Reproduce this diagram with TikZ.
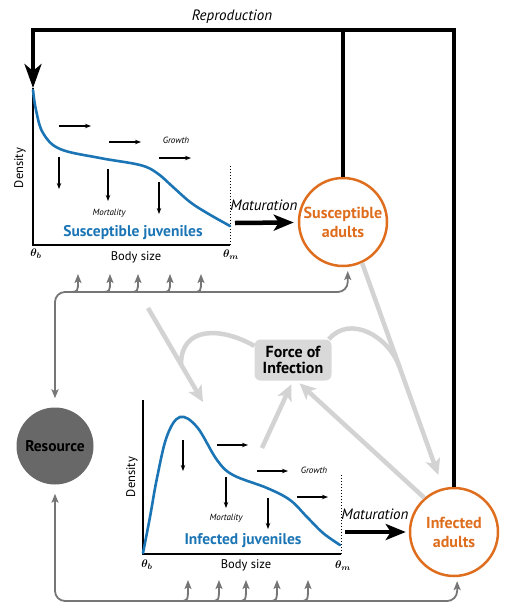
\documentclass[tikz,border=0pt]{standalone}
\usepackage{amsmath}
\usepackage{fontspec}
\setmainfont{PT Sans}
\usetikzlibrary{arrows.meta,calc}

\definecolor{juvblue}{RGB}{27,117,181}
\definecolor{adultorange}{RGB}{222,110,30}
\definecolor{resgray}{RGB}{118,118,118}
\definecolor{resfill}{RGB}{104,104,104}
\definecolor{infgray}{RGB}{211,211,211}
\definecolor{foigray}{RGB}{217,217,217}

\tikzset{
  adult/.style={circle, draw=adultorange, line width=2.5pt, minimum size=88pt,
    inner sep=0pt, align=center, text=adultorange,
    font=\fontsize{16}{19}\selectfont\bfseries},
  resource/.style={circle, fill=resfill, minimum size=77pt, inner sep=0pt,
    font=\fontsize{15.5}{17}\selectfont\bfseries},
  foi/.style={rectangle, rounded corners=6pt, fill=foigray, minimum width=77pt,
    minimum height=41pt, align=center, font=\fontsize{16}{15.5}\selectfont\bfseries},
  axis/.style={line width=1.2pt},
  maturity/.style={line width=0.6pt, dash pattern=on 1.5pt off 1.5pt},
  density/.style={juvblue, line width=2.6pt, line cap=round},
  flow/.style={line width=1.1pt, -{Stealth[length=6pt,width=4.5pt]}},
  repro/.style={line width=4pt},
  mature/.style={line width=4.5pt, -{Stealth[length=20pt,width=16pt,inset=5pt]}},
  resflow/.style={resgray, line width=1.8pt, -{Stealth[length=9pt,width=7pt,inset=2pt]}},
  infect/.style={infgray, line width=4.5pt, -{Stealth[length=16pt,width=15pt,inset=4pt]}},
  infectline/.style={infgray, line width=4.5pt},
  tinylabel/.style={font=\fontsize{9}{10}\selectfont\itshape},
  axlabel/.style={font=\fontsize{12.5}{14}\selectfont},
  flowlabel/.style={font=\fontsize{15}{17}\selectfont\itshape},
  juvlabel/.style={juvblue, font=\fontsize{15.5}{17}\selectfont\bfseries},
  thetalabel/.style={font=\fontsize{11}{12}\selectfont},
}

\begin{document}
\begin{tikzpicture}[x=1pt, y=-1pt]
\useasboundingbox (0,0) rectangle (523,614);

% Compartments
\node[adult] (sadult) at (343,222) {Susceptible\\adults};
\node[adult] (iadult) at (454,532) {Infected\\adults};
\node[resource] (resource) at (55,446) {Resource};
\node[foi] (foi) at (293,360) {Force of\\Infection};

% Infection pathways
\coordinate (sjuv) at (148,308);
\coordinate (ijuv) at (203,402);
\coordinate (ijtop) at (262,448);
\draw[infect] (sjuv) -- (ijuv);
\draw[infectline] (foi.160) to[out=150, in=90, looseness=1.3] ($(sjuv)!0.6!(ijuv)$);
\draw[infect, shorten >=14pt] (sadult.-65) -- (iadult.104);
\draw[infectline] (foi.30) to[out=50, in=110, looseness=1.1] ($(sadult.-65)!0.46!(iadult.104)$);
\draw[infect, shorten >=4pt] (ijtop) -- (foi.south);
\draw[infect, shorten >=4pt] (iadult.131) -- (foi.-80);

% Reproduction
\coordinate (rtop) at (33,30);
\coordinate (sy) at (33,88);
\draw[repro, -{Stealth[length=24pt,width=17pt,inset=7pt]}] (iadult.north) |- (rtop) -- (sy);
\draw[repro] (sadult.north) -- (sadult.north |- rtop);
\node[flowlabel] (replabel) at (232,17) {Reproduction};

% Resource uptake
\coordinate (sfeed) at (0,292);
\coordinate (ifeed) at (0,601);
\draw[resflow, {Stealth[length=9pt,width=7pt,inset=2pt]}-{Stealth[length=9pt,width=7pt,inset=2pt]},
  rounded corners=10pt, shorten <=9pt, shorten >=4pt]
  (resource.north) -- (resource.north |- sfeed) -- (sfeed -| sadult.-84) -- (sadult.-84);
\draw[resflow, {Stealth[length=9pt,width=7pt,inset=2pt]}-{Stealth[length=9pt,width=7pt,inset=2pt]},
  rounded corners=10pt, shorten <=9pt, shorten >=4pt]
  (resource.south) -- (resource.south |- ifeed) -- (ifeed -| iadult.-86) -- (iadult.-86);
\foreach \bx in {78,110,138,170,201} {
  \coordinate (btip) at (\bx,274);
  \draw[resflow] ($(btip |- sfeed)+(-9,0)$) .. controls (btip |- sfeed) .. (btip);
}
\foreach \bx in {188,219,246,277,308} {
  \coordinate (btip) at (\bx,580);
  \draw[resflow] ($(btip |- ifeed)+(-9,0)$) .. controls (btip |- ifeed) .. (btip);
}

% Susceptible juveniles
\coordinate (so) at (33,245);
\coordinate (sm) at (230,245);
\draw[axis] (sy) -- (so) -- (sm);
\draw[maturity] (sm) -- ++(0,-81);
\draw[density] plot[smooth, tension=0.6] coordinates {(33,90) (36,110) (43,133) (60,149)
  (100,158) (140,165) (157,173) (173,187) (190,202) (207,213) (230,226)};
\foreach \gx/\gy in {59/126,109/142,159/158} \draw[flow] (\gx,\gy) -- ++(32,0);
\foreach \mx/\my in {59/157,108/169,159/182} \draw[flow] (\mx,\my) -- ++(0,32);
\node[tinylabel] at (176,140) {Growth};
\node[tinylabel] at (109,213) {Mortality};
\node[juvlabel] at (133,233) {Susceptible juveniles};
\node[axlabel, rotate=90] at (20,168) {Density};
\node[axlabel] at (136,257) {Body size};
\node[thetalabel] at (36,254) {$\boldsymbol{\theta_b}$};
\node[thetalabel] at (231,255) {$\boldsymbol{\theta_m}$};
\node[flowlabel] at (264,205) {Maturation};
\coordinate (smat) at (235,223);
\draw[mature, shorten >=4pt] (smat) -- (sadult);

% Infected juveniles
\coordinate (io) at (143,554);
\coordinate (iy) at (143,400);
\coordinate (im) at (341,554);
\draw[axis] (iy) -- (io) -- (im);
\draw[maturity] (im) -- ++(0,-81);
\draw[density] plot[smooth, tension=0.6] coordinates {(143,553) (150,517) (157,478) (167,436)
  (180,417) (197,427) (217,460) (233,475) (267,488) (290,500) (307,517) (323,533) (340,545)};
\foreach \gx/\gy in {217/445,257/471,297/497} \draw[flow] (\gx,\gy) -- ++(31,0);
\foreach \mx/\my in {183/440,226/477,268/498} \draw[flow] (\mx,\my) -- ++(0,31);
\node[tinylabel] at (314,470) {Growth};
\node[tinylabel] at (226,518) {Mortality};
\node[juvlabel] at (243,541) {Infected juveniles};
\node[axlabel, rotate=90] at (132,477) {Density};
\node[axlabel] at (246,565) {Body size};
\node[thetalabel] at (147,565) {$\boldsymbol{\theta_b}$};
\node[thetalabel] at (343,566) {$\boldsymbol{\theta_m}$};
\node[flowlabel] at (375,514) {Maturation};
\coordinate (imat) at (345,532);
\draw[mature, shorten >=3pt] (imat) -- (iadult);

\end{tikzpicture}
\end{document}
